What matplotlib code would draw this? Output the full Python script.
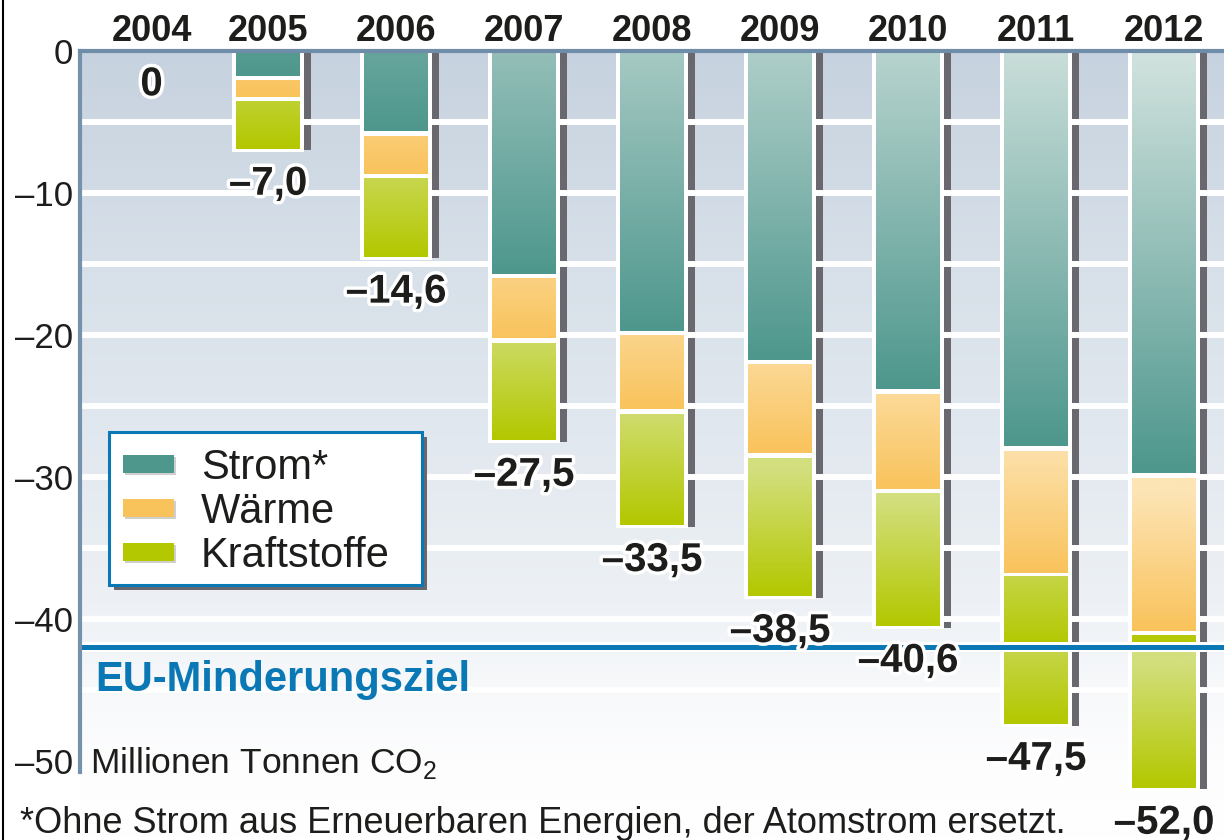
#!/usr/bin/env python3
"""
Vermiedene CO2-Emissionen 2004-2012 (Strom, Waerme, Kraftstoffe)
gestapelte Balken nach unten, mit EU-Minderungsziel
"""

import numpy as np
import matplotlib
matplotlib.use("Agg")
import matplotlib.pyplot as plt
import matplotlib.patheffects as pe
from matplotlib.colors import LinearSegmentedColormap, to_rgb
from matplotlib.patches import Rectangle
from matplotlib.lines import Line2D

plt.rcParams["font.family"] = ["Liberation Sans", "DejaVu Sans"]

# ── Daten (Millionen Tonnen CO2) ────────────────────────────────────────────
years = ["2004", "2005", "2006", "2007", "2008", "2009", "2010", "2011", "2012"]
strom = [0.0, 1.9, 5.8, 15.9, 19.9, 21.9, 24.0, 28.0, 29.9]
waerme = [0.0, 1.5, 3.0, 4.5, 5.5, 6.6, 7.0, 8.9, 11.1]
kraft = [0.0, 3.6, 5.8, 7.1, 8.1, 10.0, 9.6, 10.6, 11.0]
totals = [0.0, 7.0, 14.6, 27.5, 33.5, 38.5, 40.6, 47.5, 52.0]
ziel = -42.0

categories = ["Strom*", "Wärme", "Kraftstoffe"]
yticks = [0, -10, -20, -30, -40, -50]
footnote = "*Ohne Strom aus Erneuerbaren Energien, der Atomstrom ersetzt."

# Farben: (Basis unten, hell oben, Verlaufslaenge in Einheiten)
farben = [("#4e978d", "#d3e3df", 30.0),
          ("#f9c35c", "#fde5b6", 10.0),
          ("#b3c800", "#d3df7e", 9.0)]
TEXT = "#1d1d1b"
BLAU = "#0a78b4"
SCHATTEN = "#68686e"

W, H = 1224, 840
PX = 14.2            # Pixel pro Einheit
BW = 0.5             # Balkenbreite
GAP = 0.17           # halbe weisse Fuge zwischen Segmenten


def P(px, py):
    """Pixel (von oben links) -> Figure-Koordinaten."""
    return px / W, 1 - py / H


fig = plt.figure(figsize=(W / 100, H / 100), dpi=100)
ax = fig.add_axes([80 / W, 0, 1 - 80 / W, 1 - 51 / H])
xlim = (-0.469, 8.469)
ylim = (-(H - 51) / PX, 0)

x = np.arange(len(years), dtype=float)
x[0] += 0.09
tot = np.array(totals)

# ── Hintergrund mit Verlauf ────────────────────────────────────────────────
bg = LinearSegmentedColormap.from_list("bg", [
    (0.0, "#c6d2df"), (0.25, "#d6dfe8"), (0.49, "#e2e8ef"),
    (0.70, "#edf1f5"), (0.80, "#f6f8fa"), (0.90, "#fdfdfe"), (1.0, "#ffffff")])
ax.imshow(np.linspace(0, 1, 256).reshape(-1, 1), cmap=bg, origin="upper",
          extent=[xlim[0], xlim[1], ylim[0], 0], aspect="auto", zorder=0)

# Schattenbalken rechts neben den Balken
ax.bar(x + 0.309, -tot, width=0.055, color=SCHATTEN, zorder=1)

# weisse Gitterlinien
for g in np.arange(-5, -46, -5):
    ax.axhline(g, color="white", lw=4.3, zorder=2)

# weisser Rand um die Balken
mask = tot > 0
ax.bar(x[mask], -(tot[mask] + 0.1), width=BW + 0.0625, color="white", zorder=3)


def fill_piece(xc, y_bot, y_top, base, light, L):
    d = np.linspace(0, y_top - y_bot, 64)
    t = np.clip(d / L, 0, 1)[:, None, None]
    img = np.asarray(to_rgb(base)) * (1 - t) + np.asarray(to_rgb(light)) * t
    ax.imshow(img, extent=[xc - BW / 2, xc + BW / 2, y_bot, y_top],
              origin="lower", aspect="auto", interpolation="bilinear", zorder=4)


series = [strom, waerme, kraft]
for i, xc in enumerate(x):
    top = 0.0
    for k, vals in enumerate(series):
        v = vals[i]
        if v <= 0:
            continue
        bot = top - v
        y_top = top - (GAP if top < 0 else 0)
        y_bot = bot + (GAP if k < len(series) - 1 else 0.12)
        base, light, L = farben[k]
        if y_bot < ziel < y_top:
            pieces = [(y_bot, ziel), (ziel, y_top)]
        else:
            pieces = [(y_bot, y_top)]
        for pb, pt in pieces:
            fill_piece(xc, pb, pt, base, light, L)
        top = bot

# EU-Ziel
ax.axhline(ziel, color="white", lw=7.2, zorder=5)
ax.axhline(ziel, color=BLAU, lw=3.6, zorder=6)
ax.text(15 / 1144, -45.1, "EU-Minderungsziel", transform=ax.get_yaxis_transform(),
        fontsize=30, fontweight="bold", color=BLAU, va="baseline", zorder=8)
ax.text(10 / 1144, -50.85, r"Millionen Tonnen CO$_\mathregular{2}$",
        transform=ax.get_yaxis_transform(), fontsize=25.5, color=TEXT,
        va="baseline", zorder=8)

# Summenwerte unter den Balken
for xc, t in zip(x, totals):
    lab = "0" if t == 0 else ("–%.1f" % t).replace(".", ",")
    ax.annotate(lab, (xc, -t), xytext=(0, -24), textcoords="offset points",
                ha="center", va="center", fontsize=29, fontweight="bold",
                color=TEXT, zorder=9, annotation_clip=False,
                path_effects=[pe.withStroke(linewidth=5, foreground="white")])

# ── Achsen ─────────────────────────────────────────────────────────────────
ax.set_xlim(*xlim)
ax.set_ylim(*ylim)
ax.set_xticks(x, years)
ax.xaxis.tick_top()
ax.tick_params(axis="x", length=0, pad=1.5, labelsize=26, labelcolor=TEXT)
for lab in ax.get_xticklabels():
    lab.set_fontweight("bold")
ax.set_yticks(yticks, ["0" if v == 0 else "–%d" % abs(v) for v in yticks])
ax.tick_params(axis="y", length=0, pad=5, labelsize=25, labelcolor=TEXT)

for s in ("right", "bottom"):
    ax.spines[s].set_visible(False)
ax.spines["top"].set_color("#6f8ca8")
ax.spines["top"].set_linewidth(3)
ax.spines["top"].set_zorder(7)
ax.spines["left"].set_color("#7592ad")
ax.spines["left"].set_linewidth(3)
ax.spines["left"].set_bounds(-50.75, 0)
ax.spines["left"].set_zorder(7)

# ── Legende ────────────────────────────────────────────────────────────────
x0, y0, x1, y1 = 109, 432, 422, 585
fig.add_artist(Rectangle(P(x0 + 5, y1 + 5), (x1 - x0) / W, (y1 - y0) / H,
                         facecolor=SCHATTEN, edgecolor="none", zorder=5))
fig.add_artist(Rectangle(P(x0, y1), (x1 - x0) / W, (y1 - y0) / H,
                         facecolor="white", edgecolor=BLAU, lw=2.2, zorder=6))
for k, name in enumerate(categories):
    yc = 464 + 44 * k
    fig.add_artist(Rectangle(P(124.5, yc + 11), 51.5 / W, 18 / H,
                             facecolor="#cfcfcf", edgecolor="none", zorder=7))
    fig.add_artist(Rectangle(P(122.5, yc + 9), 51.5 / W, 18 / H,
                             facecolor=farben[k][0], edgecolor="none", zorder=8))
    fig.text(*P(201, yc + 15), name, fontsize=30, color=TEXT, va="baseline", zorder=9)

# Fussnote und linker Rand
fig.text(*P(20, 833), footnote, fontsize=26, color=TEXT, va="baseline")
fig.add_artist(Line2D([3 / W, 3 / W], [0, 1], color="black", lw=1.5))

fig.savefig("out.png", dpi=100)
plt.close()
